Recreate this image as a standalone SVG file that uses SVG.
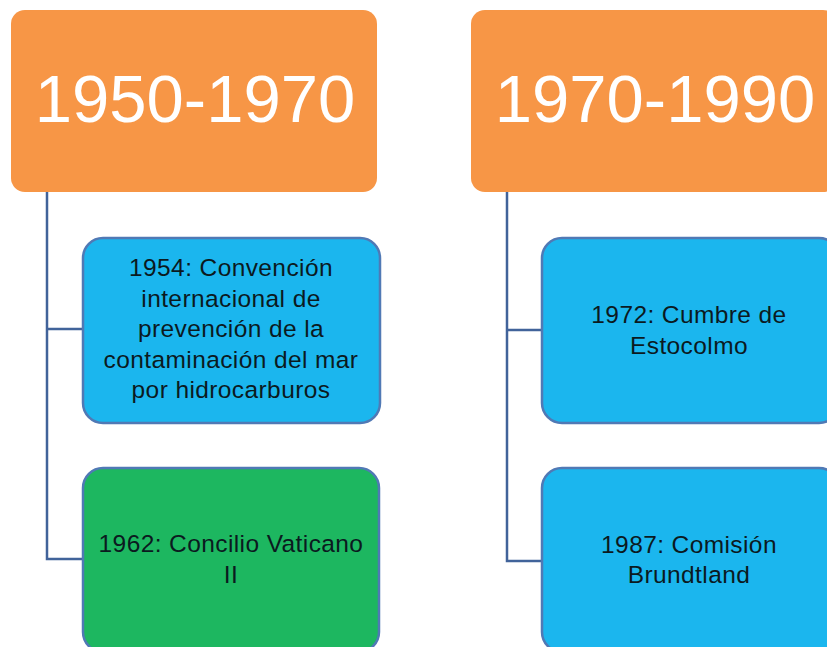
<svg xmlns="http://www.w3.org/2000/svg" width="827" height="647" viewBox="0 0 827 647">
<style>
.hdr{fill:#f79646}
.hdr-t{font-family:"Liberation Sans",Arial,sans-serif;font-size:67px;fill:#ffffff;text-anchor:middle}
.box{stroke:#5079b5;stroke-width:2.5}
.blue{fill:#1bb6ee}
.green{fill:#1db760}
.t{font-family:"Liberation Sans",Arial,sans-serif;font-size:24.5px;letter-spacing:0.4px;fill:#0b1a1f;text-anchor:middle}
.conn{fill:none;stroke:#41639a;stroke-width:2.5}
</style>
<rect width="827" height="647" fill="#ffffff"/>
<g id="connectors">
<path class="conn" d="M47,192 V559 H83 M47,329 H83"/>
<path class="conn" d="M507,192 V561 H542 M507,330 H542"/>
</g>
<g id="h1">
<rect class="hdr" x="11" y="10" width="366" height="182" rx="14"/>
<text class="hdr-t" x="195" y="122">1950-1970</text>
</g>
<g id="h2">
<rect class="hdr" x="471" y="10" width="366" height="182" rx="14"/>
<text class="hdr-t" x="655" y="122">1970-1990</text>
</g>
<g id="n1954">
<rect class="box blue" x="83" y="238" width="297" height="185" rx="20"/>
<text class="t" x="231" y="276">1954: Convención</text>
<text class="t" x="231" y="306.5">internacional de</text>
<text class="t" x="231" y="337">prevención de la</text>
<text class="t" x="231" y="367.5">contaminación del mar</text>
<text class="t" x="231" y="398">por hidrocarburos</text>
</g>
<g id="n1962">
<rect class="box green" x="83" y="468" width="296" height="184" rx="20"/>
<text class="t" x="231" y="552">1962: Concilio Vaticano</text>
<text class="t" x="231" y="583">II</text>
</g>
<g id="n1972">
<rect class="box blue" x="542" y="238" width="297" height="185" rx="20"/>
<text class="t" x="689" y="323">1972: Cumbre de</text>
<text class="t" x="689" y="354">Estocolmo</text>
</g>
<g id="n1987">
<rect class="box blue" x="542" y="468" width="297" height="184" rx="20"/>
<text class="t" x="689" y="553">1987: Comisión</text>
<text class="t" x="689" y="583">Brundtland</text>
</g>
</svg>
